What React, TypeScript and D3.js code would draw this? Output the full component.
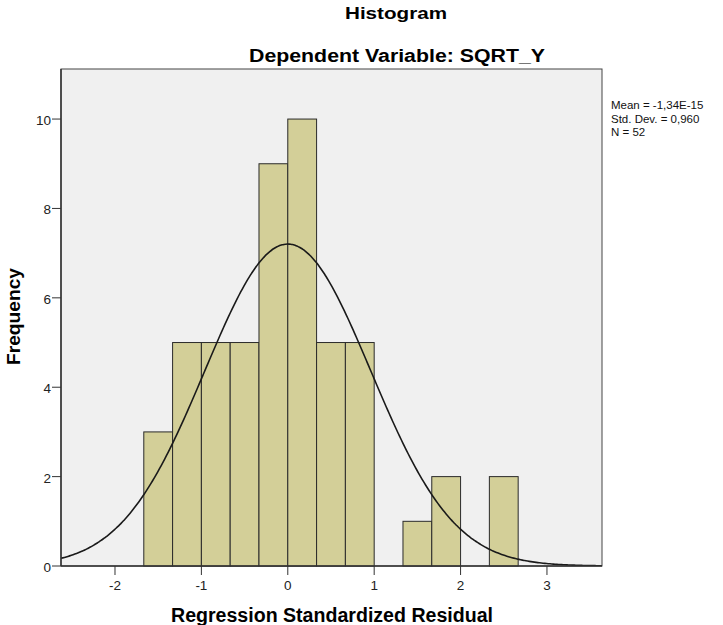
import * as React from "react";
import * as d3 from "d3";

// bins of width 1/3 starting at -5/3
const binStarts = [-5 / 3, -4 / 3, -1, -2 / 3, -1 / 3, 0, 1 / 3, 2 / 3, 1, 4 / 3, 5 / 3, 2, 7 / 3];
const counts = [3, 5, 5, 5, 9, 10, 5, 5, 0, 1, 2, 0, 2];
const binWidth = 1 / 3;
const xTicks = [-2, -1, 0, 1, 2, 3];
const yTicks = [0, 2, 4, 6, 8, 10];
const statsLines = ["Mean = -1,34E-15", "Std. Dev. = 0,960", "N = 52"];
const mean = -1.34e-15;
const sd = 0.96;
const n = 52;

const W = 723;
const H = 625;
const margin = { top: 69, right: 121, bottom: 59, left: 61 };
const font = "Arial, 'Liberation Sans', sans-serif";

export default function App() {
  const x = d3
    .scaleLinear()
    .domain([-2.625, 3.637])
    .range([margin.left, W - margin.right]);
  const y = d3
    .scaleLinear()
    .domain([0, 11.12])
    .range([H - margin.bottom, margin.top]);

  const curvePts = d3.range(-2.625, 3.637 + 0.001, 0.02).map((v) => [
    v,
    (n * binWidth * Math.exp(-((v - mean) ** 2) / (2 * sd * sd))) / (sd * Math.sqrt(2 * Math.PI)),
  ]);
  const line = d3
    .line<number[]>()
    .x((d) => x(d[0]))
    .y((d) => y(d[1]))
    .curve(d3.curveMonotoneX);

  const x0 = margin.left;
  const x1 = W - margin.right;
  const y0 = H - margin.bottom;
  const y1 = margin.top;

  return (
    <svg
      width={W}
      height={H}
      style={{ position: "absolute", left: 0, top: 0, background: "#fff" }}
      fontFamily={font}
    >
      <text
        x={396}
        y={19}
        textAnchor="middle"
        fontSize={17}
        fontWeight="bold"
        fill="#000"
        textLength={102}
        lengthAdjust="spacingAndGlyphs"
      >
        Histogram
      </text>
      <text
        x={397}
        y={62}
        textAnchor="middle"
        fontSize={18}
        fontWeight="bold"
        fill="#000"
        textLength={296}
        lengthAdjust="spacingAndGlyphs"
      >
        Dependent Variable: SQRT_Y
      </text>

      <rect x={x0} y={y1} width={x1 - x0} height={y0 - y1} fill="#f0f0f0" stroke="#444" strokeWidth={1} />

      <defs>
        <clipPath id="plotclip">
          <rect x={x0} y={y1} width={x1 - x0} height={y0 - y1} />
        </clipPath>
      </defs>

      {binStarts.map((b, i) =>
        counts[i] > 0 ? (
          <rect
            key={i}
            x={x(b)}
            y={y(counts[i])}
            width={x(b + binWidth) - x(b)}
            height={y(0) - y(counts[i])}
            fill="#d3cf98"
            stroke="#2a2a2a"
            strokeWidth={1}
          />
        ) : null
      )}

      <path
        d={line(curvePts) || ""}
        fill="none"
        stroke="#1a1a1a"
        strokeWidth={1.6}
        clipPath="url(#plotclip)"
      />

      {/* axes */}
      <line x1={x0} x2={x1} y1={y0} y2={y0} stroke="#333" strokeWidth={1.5} />
      <line x1={x0} x2={x0} y1={y0} y2={y1} stroke="#333" strokeWidth={1.5} />

      {yTicks.map((t) => (
        <g key={t}>
          <line x1={x0 - 9} x2={x0} y1={y(t)} y2={y(t)} stroke="#333" />
          <text x={x0 - 10} y={y(t) + 6} textAnchor="end" fontSize={13.5} fill="#222">
            {t}
          </text>
        </g>
      ))}
      {xTicks.map((t) => (
        <g key={t}>
          <line x1={x(t)} x2={x(t)} y1={y0} y2={y0 + 9} stroke="#333" />
          <text x={x(t)} y={y0 + 24} textAnchor="middle" fontSize={13.5} fill="#222">
            {t}
          </text>
        </g>
      ))}

      <text
        x={332}
        y={622}
        textAnchor="middle"
        fontSize={19.5}
        fontWeight="bold"
        fill="#000"
        textLength={322}
        lengthAdjust="spacingAndGlyphs"
      >
        Regression Standardized Residual
      </text>
      <text
        transform={`translate(20,316.5) rotate(-90)`}
        textAnchor="middle"
        fontSize={19}
        fontWeight="bold"
        fill="#000"
        textLength={97}
        lengthAdjust="spacingAndGlyphs"
      >
        Frequency
      </text>

      {statsLines.map((s, i) => (
        <text key={i} x={611} y={109 + i * 13.5} fontSize={11.5} fill="#111">
          {s}
        </text>
      ))}
    </svg>
  );
}
